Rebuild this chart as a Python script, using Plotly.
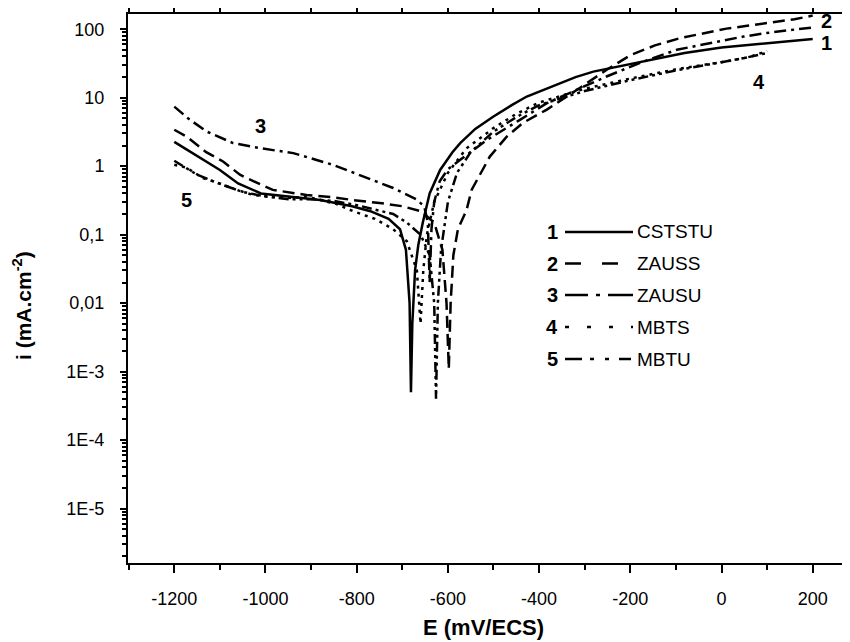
import plotly.graph_objects as go

# ---------------- data ----------------
names = ["CSTSTU", "ZAUSS", "ZAUSU", "MBTS", "MBTU"]
numbers = ["1", "2", "3", "4", "5"]

E1 = [-1200, -1150, -1100, -1060, -1010, -950, -880, -810, -770, -730, -705, -692, -684, -681,
      -678, -672, -665, -655, -640, -617, -590, -573, -540, -500, -460, -427, -390, -354, -320,
      -281, -223, -150, -81, 0, 99, 200]
I1 = [2.26, 1.4, 0.88, 0.56, 0.40, 0.36, 0.32, 0.26, 0.22, 0.17, 0.12, 0.06, 0.01, 0.0005,
      0.005, 0.03, 0.07, 0.15, 0.4, 0.88, 1.6, 2.17, 3.5, 5.3, 7.8, 10.4, 13, 16.3, 20,
      24, 28.6, 36, 45, 54, 63, 72]

E2 = [-1200, -1173, -1130, -1093, -1056, -1041, -984, -910, -850, -808, -750, -700, -660, -630,
      -612, -603, -598, -594, -588, -578, -559, -548, -508, -471, -435, -383, -325, -281, -250,
      -199, -146, -91, -40, 11, 60, 117, 160, 200]
I2 = [3.4, 2.71, 1.6, 1.17, 0.75, 0.67, 0.45, 0.38, 0.35, 0.32, 0.29, 0.26, 0.22, 0.15,
      0.06, 0.01, 0.0011, 0.01, 0.05, 0.12, 0.23, 0.45, 1.38, 2.7, 4.3, 6.7, 12, 19, 26,
      42, 58, 74, 88, 102, 113, 126, 140, 158]

E3 = [-1200, -1170, -1129, -1071, -1012, -939, -851, -782, -720, -670, -652, -644, -640, -636,
      -630, -618, -600, -573, -515, -442, -383, -318, -252, -175, -98, -18, 48, 114, 200]
I3 = [7.4, 5.0, 3.2, 2.17, 1.83, 1.55, 1.04, 0.70, 0.48, 0.33, 0.26, 0.15, 0.02, 0.12,
      0.3, 0.6, 0.9, 1.24, 2.4, 4.75, 8.3, 13, 20.4, 33, 50, 64, 78, 91, 106]

E4 = [-1200, -1173, -1137, -1100, -1063, -1027, -954, -910, -844, -808, -760, -720, -690, -668,
      -660, -654, -646, -630, -600, -560, -500, -450, -400, -300, -200, -100, 0, 60, 100]
I4 = [1.05, 0.95, 0.67, 0.56, 0.45, 0.38, 0.34, 0.36, 0.28, 0.22, 0.17, 0.12, 0.08, 0.03,
      0.005, 0.03, 0.1, 0.3, 0.8, 1.8, 3.6, 5.8, 8.5, 13.5, 19, 26, 33, 39, 48]

E5 = [-1200, -1180, -1150, -1100, -1050, -1000, -950, -900, -850, -800, -760, -720, -690, -660,
      -640, -630, -626, -622, -615, -600, -580, -550, -500, -450, -400, -300, -200, -100, 0, 50, 100]
I5 = [1.2, 1.0, 0.75, 0.55, 0.42, 0.36, 0.33, 0.33, 0.31, 0.27, 0.23, 0.2, 0.15, 0.1,
      0.05, 0.01, 0.0004, 0.01, 0.06, 0.3, 0.8, 1.6, 3.2, 5.2, 7.8, 12.5, 18, 25, 33, 38, 45]

series_E = [E1, E2, E3, E4, E5]
series_I = [I1, I2, I3, I4, I5]

x_tickvals = [-1200, -1000, -800, -600, -400, -200, 0, 200]
x_ticktext = ["-1200", "-1000", "-800", "-600", "-400", "-200", "0", "200"]
y_tickvals = [1e-5, 1e-4, 1e-3, 0.01, 0.1, 1, 10, 100]
y_ticktext = ["1E-5", "1E-4", "1E-3", "0,01", "0,1", "1", "10", "100"]

# ---------------- styling ----------------
dashes = ["solid", "12px,6px", "12px,5px,3px,5px", "3px,5px", "10px,4px,3px,4px,3px,4px"]
legend_dashes = ["solid", "16px,21px", "23px,8px,4px,8px,25px", "4px,18px",
                 "17px,8px,4px,11px,4px,10px,12px"]

# the page body has an 8px default margin: the figure is drawn from (8, 8)
OFF = 8
W, H = 850 - OFF, 642 - OFF
# plot area in screenshot pixels: x 128..850, y 14..563
ML, MR, MT, MB = 128 - OFF, 0, 14 - OFF, 642 - 563
PW, PH = W - ML - MR, H - MT - MB


def px(x):
    return (x - OFF - ML) / PW


def py(y):
    return (H - MB - (y - OFF)) / PH


FONT = "Liberation Sans, Arial, sans-serif"

fig = go.Figure()
for k in range(5):
    fig.add_trace(go.Scatter(
        x=series_E[k], y=series_I[k], mode="lines", name=names[k],
        line=dict(color="black", width=2.5, dash=dashes[k]),
        showlegend=False,
    ))

y_minor = []
for d in range(-7, 3):
    for m in range(2, 10):
        y_minor.append(m * 10.0 ** d)
x_minor = list(range(-1300, 300, 100))

fig.update_layout(
    width=W, height=H,
    margin=dict(l=ML, r=MR, t=MT, b=MB, autoexpand=False),
    paper_bgcolor="white", plot_bgcolor="white",
    font=dict(family=FONT, size=18, color="black"),
    xaxis=dict(
        range=[-1301.5, 281.8], tickmode="array", tickvals=x_tickvals, ticktext=x_ticktext,
        ticks="outside", ticklen=8, tickwidth=2, tickcolor="black",
        showline=True, linewidth=2, linecolor="black", mirror="allticks",
        showgrid=False, zeroline=False, ticklabelstandoff=10, automargin=False,
        minor=dict(tickmode="array", tickvals=x_minor, ticks="outside", ticklen=5, tickwidth=2,
                   tickcolor="black", showgrid=False),
        tickfont=dict(size=18),
    ),
    yaxis=dict(
        type="log", range=[-5.795, 2.222], tickmode="array",
        tickvals=y_tickvals, ticktext=y_ticktext,
        ticks="outside", ticklen=6, tickwidth=2, tickcolor="black",
        showline=True, linewidth=2, linecolor="black", mirror="allticks",
        showgrid=False, zeroline=False, ticklabelstandoff=12, automargin=False,
        minor=dict(tickmode="array", tickvals=y_minor, ticks="outside", ticklen=4,
                   tickwidth=1.5, tickcolor="black", showgrid=False),
        tickfont=dict(size=18),
    ),
)

ann = []
# axis titles
ann.append(dict(text="<b>E (mV/ECS)</b>", x=px(483), y=py(627), xref="paper", yref="paper",
                showarrow=False, font=dict(size=22, family=FONT), xanchor="center", yanchor="middle"))
ann.append(dict(text="<b>i (mA.cm<sup>-2</sup>)</b>", x=px(22), y=py(305), xref="paper", yref="paper",
                showarrow=False, textangle=-90, font=dict(size=21, family=FONT),
                xanchor="center", yanchor="middle"))

# curve labels
curve_labels = [("1", 826, 43), ("2", 826, 21), ("3", 260, 126), ("4", 759, 82), ("5", 186, 200)]
for t, xx, yy in curve_labels:
    ann.append(dict(text="<b>%s</b>" % t, x=px(xx), y=py(yy), xref="paper", yref="paper",
                    showarrow=False, font=dict(size=20, family=FONT),
                    xanchor="center", yanchor="middle"))

# legend (drawn by hand to match the reference layout)
rows = [232, 263.5, 295, 327, 359]
shapes = []
for k in range(5):
    yy = rows[k]
    ann.append(dict(text="<b>%s</b>" % numbers[k], x=px(552), y=py(yy), xref="paper", yref="paper",
                    showarrow=False, font=dict(size=20, family=FONT),
                    xanchor="center", yanchor="middle"))
    ann.append(dict(text=names[k], x=px(635), y=py(yy), xref="paper", yref="paper",
                    showarrow=False, font=dict(size=19, family=FONT),
                    xanchor="left", yanchor="middle"))
    shapes.append(dict(type="line", xref="paper", yref="paper",
                       x0=px(565), x1=px(633), y0=py(yy), y1=py(yy),
                       line=dict(color="black", width=2.5, dash=legend_dashes[k])))

fig.update_layout(annotations=ann, shapes=shapes)

fig.write_html("out.html")
